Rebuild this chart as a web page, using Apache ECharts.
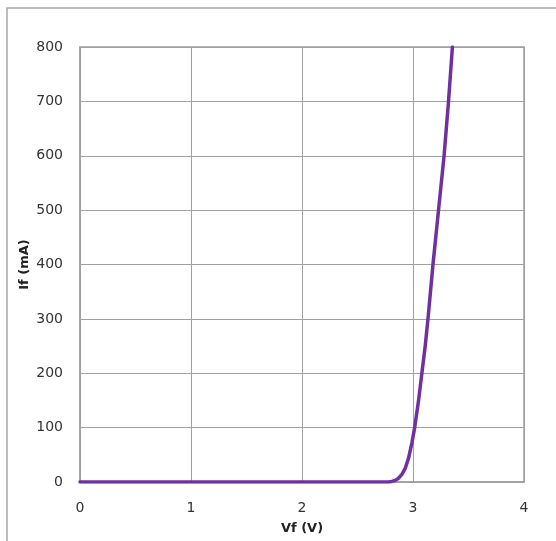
<!DOCTYPE html>
<html>
<head>
<meta charset="utf-8">
<script src="https://cdn.jsdelivr.net/npm/echarts@6/dist/echarts.min.js"></script>
<style>html,body{margin:0;padding:0;background:#fff;overflow:hidden;}#c{width:556px;height:541px;}</style>
</head>
<body>
<div id="c"></div>
<script>
const vf = [0, 1, 2, 2.5, 2.78, 2.81, 2.84, 2.87, 2.9, 2.93, 2.96, 2.99, 3.015, 3.05, 3.08, 3.11, 3.135, 3.18, 3.23, 3.28, 3.32, 3.355];
const ifma = [0, 0, 0, 0, 0, 1, 3, 7, 14, 25, 44, 72, 100, 150, 200, 250, 300, 400, 500, 600, 700, 800];
const xTicks = [0, 1, 2, 3, 4];
const yTicks = [0, 100, 200, 300, 400, 500, 600, 700, 800];

const chart = echarts.init(document.getElementById('c'));
const font = 'DejaVu Sans';
chart.setOption({
  animation: false,
  graphic: [{
    type: 'rect', silent: true,
    shape: { x: 7, y: 8, width: 800, height: 800 },
    style: { fill: 'none', stroke: '#a6a6a6', lineWidth: 1.5 }
  }],
  grid: { left: 80, right: 32, top: 47, bottom: 59, show: true, borderColor: '#a0a0a0', borderWidth: 1.5, backgroundColor: 'transparent' },
  xAxis: {
    type: 'value', min: xTicks[0], max: xTicks[xTicks.length - 1], interval: 1,
    name: 'Vf (V)', nameLocation: 'middle', nameGap: 40,
    nameTextStyle: { fontFamily: font, fontSize: 13, fontWeight: 'bold', color: '#222' },
    axisLine: { show: true, lineStyle: { color: '#a0a0a0', width: 1.5 } },
    axisTick: { show: false },
    axisLabel: { fontFamily: font, fontSize: 14, color: '#333', margin: 19 },
    splitLine: { show: true, lineStyle: { color: '#a0a0a0', width: 1 } }
  },
  yAxis: {
    type: 'value', min: yTicks[0], max: yTicks[yTicks.length - 1], interval: 100,
    name: 'If (mA)', nameLocation: 'middle', nameGap: 49, nameRotate: 90, nameMoveOverlap: false,
    nameTextStyle: { fontFamily: font, fontSize: 13, fontWeight: 'bold', color: '#222' },
    axisLine: { show: true, lineStyle: { color: '#a0a0a0', width: 1.5 } },
    axisTick: { show: false },
    axisLabel: { fontFamily: font, fontSize: 14, color: '#333', margin: 17 },
    splitLine: { show: true, lineStyle: { color: '#a0a0a0', width: 1 } }
  },
  series: [{
    type: 'line',
    data: vf.map((v, i) => [v, ifma[i]]),
    smooth: false,
    showSymbol: false,
    lineStyle: { color: '#7030a0', width: 3.5, join: 'round', cap: 'round' },
    clip: true
  }]
});
</script>
</body>
</html>
